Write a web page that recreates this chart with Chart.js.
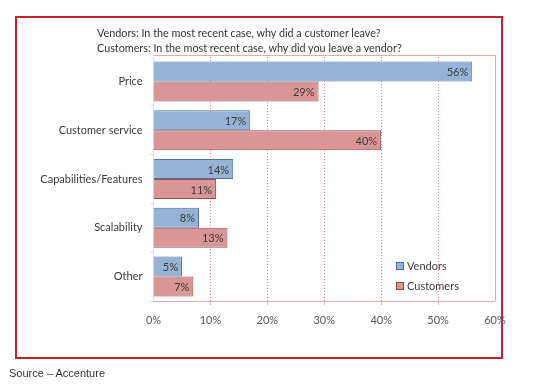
<!DOCTYPE html>
<html>
<head>
<meta charset="utf-8">
<script src="https://cdn.jsdelivr.net/npm/chart.js@4.4.1/dist/chart.umd.min.js"></script>
<style>
  html, body { margin: 0; padding: 0; background: #fff; }
  #wrap { position: relative; width: 533px; height: 384px; overflow: hidden; }
  #frame { position: absolute; left: 15px; top: 16px; width: 484px; height: 339px; border: 2px solid #c3212b; }
  #title { position: absolute; left: 97px; top: 25px; font: 10.8px Lato, sans-serif; color: #333; line-height: 15px; }
  #source { position: absolute; left: 9px; top: 367px; font: 11px "Liberation Sans", Arial, sans-serif; color: #333; }
  #legend { position: absolute; left: 396px; top: 256px; font: 11px Lato, sans-serif; color: #3a3a3a; line-height: 20px; }
  #legend span.box { display: inline-block; width: 6px; height: 6px; margin-right: 3px; vertical-align: 0px; }
  canvas { position: absolute; left: 0; top: 0; }
</style>
</head>
<body>
<div id="wrap">
  <div id="frame"></div>
  <canvas id="chart" width="533" height="384"></canvas>
  <div id="title">Vendors: In the most recent case, why did a customer leave?<br>Customers: In the most recent case, why did you leave a vendor?</div>
  <div id="legend">
    <div><span class="box" style="background:#95b3d7;border:1px solid #4a6a97"></span>Vendors</div>
    <div><span class="box" style="background:#d99694;border:1px solid #8c4a48"></span>Customers</div>
  </div>
  <div id="source">Source – Accenture</div>
</div>
<script>
//Chart data
const categories = ["Price", "Customer service", "Capabilities/Features", "Scalability", "Other"]; //reasons
const vendorValues = [56, 17, 14, 8, 5]; //vendors answers, percent
const customerValues = [29, 40, 11, 13, 7]; //customers answers, percent
const tickLabels = ["0%", "10%", "20%", "30%", "40%", "50%", "60%"]; //x axis labels

const barLabels = { //draw the value at the end of each bar
    id: 'barLabels',
    afterDatasetsDraw(chart) {
        const ctx = chart.ctx;
        ctx.save();
        ctx.font = '11px Lato, sans-serif';
        ctx.fillStyle = '#3b3b3b';
        ctx.textAlign = 'right';
        ctx.textBaseline = 'middle';
        chart.data.datasets.forEach((ds, i) => {
            chart.getDatasetMeta(i).data.forEach((bar, j) => {
                ctx.fillText(ds.data[j] + '%', bar.x - 4, bar.y + 1);
            });
        });
        ctx.restore();
    }
};

const plotBorder = { //light frame round the plot area
    id: 'plotBorder',
    beforeDatasetsDraw(chart) {
        const a = chart.chartArea;
        const ctx = chart.ctx;
        ctx.save();
        ctx.strokeStyle = '#e9a9ab';
        ctx.lineWidth = 1;
        ctx.beginPath();
        ctx.moveTo(a.left, a.top - 1.5);
        ctx.lineTo(a.right + 0.5, a.top - 1.5);
        ctx.lineTo(a.right + 0.5, a.bottom);
        ctx.stroke();
        ctx.restore();
    }
};

new Chart(document.getElementById('chart').getContext('2d'), {
    type: 'bar',
    data: {
        labels: categories,
        datasets: [
            { label: 'Vendors', data: vendorValues, backgroundColor: '#95b3d7', borderColor: '#56719a', borderWidth: 1 },
            { label: 'Customers', data: customerValues, backgroundColor: '#d99694', borderColor: '#915250', borderWidth: 1 }
        ]
    },
    options: {
        indexAxis: 'y',
        responsive: false,
        animation: false,
        layout: { padding: { left: 0, right: 38, top: 57, bottom: 0 } },
        datasets: { bar: { categoryPercentage: 0.82, barPercentage: 1.0 } },
        plugins: { legend: { display: false }, tooltip: { enabled: false } },
        scales: {
            x: {
                min: 0, max: 60,
                ticks: { stepSize: 10, color: '#555', font: { family: 'Lato', size: 11 }, padding: 9,
                    callback: (v, i) => tickLabels[i] },
                grid: { color: '#e58c91', drawTicks: true, tickLength: 4, tickColor: '#e9a9ab', tickBorderDash: [],
                    lineWidth: (c) => (c.index === 0 || c.index === 6) ? 0 : 1 },
                border: { color: '#e9a9ab', dash: [1, 2] },
                afterFit: (s) => { s.height = 83; }
            },
            y: {
                ticks: { color: '#3a3a3a', font: { family: 'Lato', size: 11 }, padding: 8 },
                grid: { display: true, drawOnChartArea: false, offset: true, tickLength: 3, color: '#d8d8d8' },
                border: { color: '#f3d3d4' },
                afterFit: (s) => { s.width = 153.5; }
            }
        }
    },
    plugins: [plotBorder, barLabels]
});
</script>
</body>
</html>
